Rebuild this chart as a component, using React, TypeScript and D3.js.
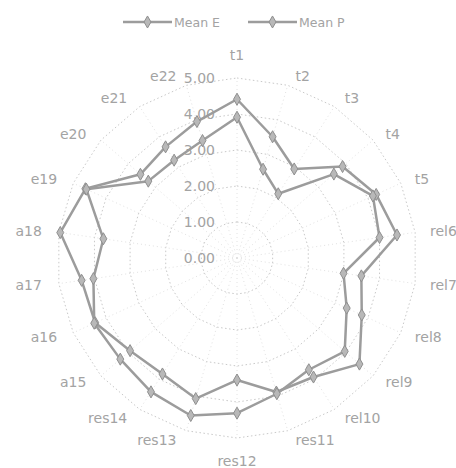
import React from "react";
import * as d3 from "d3";

const categories = [
  "t1", "t2", "t3", "t4", "t5", "rel6", "rel7", "rel8", "rel9", "rel10",
  "res11", "res12", "res13", "res14", "a15", "a16", "a17", "a18",
  "e19", "e20", "e21", "e22",
];
const meanE = [
  4.41, 3.51, 2.94, 3.88, 4.25, 4.49, 3.49, 3.81, 4.5, 3.93,
  3.88, 3.39, 4.07, 3.83, 3.93, 4.33, 4.36, 4.96,
  4.63, 3.55, 3.67, 3.95,
];
const meanP = [
  3.91, 2.57, 2.12, 3.56, 4.15, 4.0, 2.99, 3.35, 3.96, 3.69,
  3.93, 4.31, 4.56, 4.42, 4.29, 4.36, 4.03, 3.75,
  4.6, 3.26, 3.23, 3.4,
];
const tickValues = [0, 1, 2, 3, 4, 5];
const tickLabels = ["0.00", "1.00", "2.00", "3.00", "4.00", "5.00"];
const seriesNames = ["Mean E", "Mean P"];

const W = 456;
const H = 468;
const CX = 237;
const CY = 258;
const R = 180;
const FONT = "'DejaVu Sans', Verdana, sans-serif";
const TEXT = "#a3a3a3";
const LINE = "#9c9c9c";
const GRID = "#c9c9c9";

export default function App() {
  const n = categories.length;
  const r = d3.scaleLinear().domain([0, 5]).range([0, R]);
  const ang = d3
    .scalePoint<number>()
    .domain(d3.range(n + 1))
    .range([0, 2 * Math.PI]);
  const angleOf = (i: number) => ang(i) as number;

  const radial = d3
    .lineRadial<number>()
    .angle((_, i) => angleOf(i))
    .radius((d) => r(d))
    .curve(d3.curveLinearClosed);

  const diamond = d3.symbol().type(d3.symbolDiamond).size(42)();
  const series = [meanE, meanP];

  const pos = (i: number, v: number) => {
    const a = angleOf(i);
    return [CX + r(v) * Math.sin(a), CY - r(v) * Math.cos(a)];
  };

  const legendItems = [
    { x0: 123, name: seriesNames[0] },
    { x0: 248, name: seriesNames[1] },
  ];

  return (
    <div style={{ position: "absolute", left: 0, top: 0 }}>
      <svg width={W} height={H} style={{ display: "block", background: "#fff" }}>
        {/* legend */}
        {legendItems.map((l) => (
          <g key={l.name}>
            <line x1={l.x0} x2={l.x0 + 49} y1={22} y2={22} stroke={LINE} strokeWidth={2.5} />
            <path
              d={diamond}
              transform={`translate(${l.x0 + 24.5},22)`}
              fill="#b8b8b8"
              stroke="#8f8f8f"
              strokeWidth={1}
            />
            <text
              x={l.x0 + 51}
              y={22}
              dominantBaseline="central"
              fontFamily={FONT}
              fontSize={12.5}
              fill={TEXT}
            >
              {l.name}
            </text>
          </g>
        ))}

        <g>
          {/* spokes */}
          {categories.map((c, i) => {
            const [x, y] = pos(i, 5);
            return (
              <line
                key={"s" + c}
                x1={CX}
                y1={CY}
                x2={x}
                y2={y}
                stroke="#e2e2e2"
                strokeWidth={1}
                strokeDasharray="1 3"
              />
            );
          })}
          {/* grid polygons */}
          {tickValues.slice(1).map((t) => (
            <path
              key={"g" + t}
              d={radial(categories.map(() => t)) as string}
              transform={`translate(${CX},${CY})`}
              fill="none"
              stroke={GRID}
              strokeWidth={1}
              strokeDasharray="1.5 2.5"
            />
          ))}
          {/* value labels */}
          {tickValues.map((t, k) => (
            <text
              key={"v" + t}
              x={CX - 22}
              y={CY - r(t)}
              textAnchor="end"
              dominantBaseline="central"
              fontFamily={FONT}
              fontSize={14}
              fill={TEXT}
            >
              {tickLabels[k]}
            </text>
          ))}
          {/* category labels */}
          {categories.map((c, i) => {
            const a = angleOf(i);
            const s = Math.sin(a);
            const co = Math.cos(a);
            const px = CX + 190 * s;
            const py = CY - 190 * co;
            let anchor: "start" | "middle" | "end" = "middle";
            let x = px;
            let y = py;
            if (Math.abs(s) < 0.05) {
              y = py - 13 * co;
            } else if (s > 0) {
              anchor = "start";
              x = px + 5;
            } else {
              anchor = "end";
              x = px - 7;
            }
            return (
              <text
                key={"c" + c}
                x={x}
                y={y}
                textAnchor={anchor}
                dominantBaseline="central"
                fontFamily={FONT}
                fontSize={14}
                fill={TEXT}
              >
                {c}
              </text>
            );
          })}
          {/* series */}
          {series.map((vals, si) => (
            <g key={"ser" + si}>
              <path
                d={radial(vals) as string}
                transform={`translate(${CX},${CY})`}
                fill="none"
                stroke={LINE}
                strokeWidth={2.5}
                strokeLinejoin="round"
              />
              {vals.map((v, i) => {
                const [x, y] = pos(i, v);
                return (
                  <path
                    key={i}
                    d={diamond}
                    transform={`translate(${x},${y})`}
                    fill="#b8b8b8"
                    stroke="#8f8f8f"
                    strokeWidth={1}
                  />
                );
              })}
            </g>
          ))}
        </g>
      </svg>
    </div>
  );
}
